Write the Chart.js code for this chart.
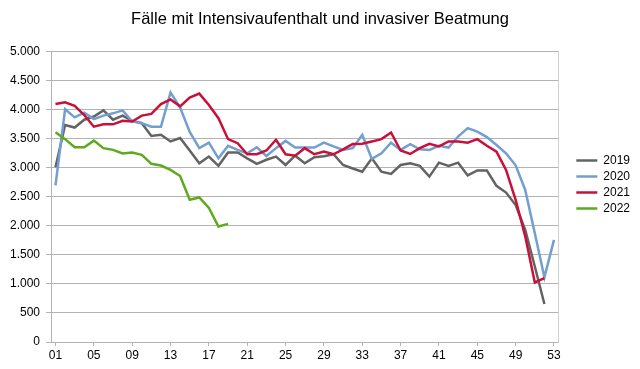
<!DOCTYPE html>
<html>
<head>
<meta charset="utf-8">
<script src="https://cdn.jsdelivr.net/npm/chart.js@4/dist/chart.umd.min.js"></script>
<style>
  html, body { margin: 0; padding: 0; background: #ffffff; }
  #wrap { width: 640px; height: 369px; }
</style>
</head>
<body>
<div id="wrap"><canvas id="c" width="640" height="369"></canvas></div>
<script>
const title = 'Fälle mit Intensivaufenthalt und invasiver Beatmung';
const weeks = ['01','02','03','04','05','06','07','08','09','10','11','12','13','14','15','16','17','18','19','20','21','22','23','24','25','26','27','28','29','30','31','32','33','34','35','36','37','38','39','40','41','42','43','44','45','46','47','48','49','50','51','52','53'];
const tickWeeks = ['01','05','09','13','17','21','25','29','33','37','41','45','49','53'];
const yTicks = [0,500,1000,1500,2000,2500,3000,3500,4000,4500,5000];
const seriesNames = ['2019','2020','2021','2022'];
const v2019 = [3010,3740,3695,3830,3885,3990,3830,3900,3810,3770,3550,3570,3455,3515,3300,3080,3195,3035,3265,3265,3165,3070,3140,3195,3050,3210,3080,3185,3200,3235,3050,2990,2935,3165,2935,2895,3050,3080,3035,2850,3090,3035,3090,2870,2955,2955,2690,2575,2360,1930,1300,655];
const v2020 = [2700,4010,3870,3950,3840,3900,3940,3990,3800,3770,3710,3710,4300,4040,3620,3340,3435,3165,3380,3310,3250,3355,3205,3340,3465,3350,3350,3350,3435,3370,3310,3340,3570,3155,3250,3435,3310,3410,3320,3310,3380,3350,3540,3685,3625,3530,3395,3250,3045,2620,1875,1115,1760];
const v2021 = [4100,4130,4070,3910,3710,3750,3750,3810,3800,3900,3930,4100,4180,4060,4210,4280,4085,3855,3495,3425,3235,3235,3300,3485,3235,3210,3340,3235,3280,3235,3320,3410,3415,3455,3495,3610,3300,3240,3340,3415,3370,3455,3455,3435,3495,3380,3280,2965,2450,1820,1025,1100];
const v2022 = [3615,3495,3355,3355,3470,3340,3310,3250,3265,3225,3070,3040,2965,2860,2450,2490,2310,1990,2035];
const colors = ['#636363','#729fcf','#c8103a','#5ea91e'];

const allValues = [v2019, v2020, v2021, v2022];
const toPoints = vals => vals.map((v, i) => ({ x: parseInt(weeks[i], 10), y: v }));
const fmt = n => String(n).replace(/\B(?=(\d{3})+(?!\d))/g, '.');

const datasets = seriesNames.map((name, i) => ({
  label: name,
  data: toPoints(allValues[i]),
  borderColor: colors[i],
  backgroundColor: colors[i],
  borderWidth: 2.5,
  pointRadius: 0,
  pointHoverRadius: 0,
  tension: 0,
  fill: false,
  order: seriesNames.length - i
}));

new Chart(document.getElementById('c'), {
  type: 'line',
  data: { datasets },
  options: {
    responsive: false,
    animation: false,
    devicePixelRatio: 1,
    layout: { padding: { left: 0, right: 0, top: 0, bottom: 0 } },
    plugins: {
      tooltip: { enabled: false },
      title: {
        display: true,
        text: title,
        color: '#000000',
        font: { family: 'Liberation Sans', size: 16.5, weight: 'normal', lineHeight: 1.2 },
        padding: { top: 10, bottom: 22 }
      },
      legend: {
        display: true,
        position: 'right',
        align: 'center',
        labels: {
          sort: (a, b) => a.datasetIndex - b.datasetIndex,
          usePointStyle: true,
          pointStyle: 'line',
          pointStyleWidth: 21,
          color: '#000000',
          padding: 4,
          font: { family: 'Liberation Sans', size: 12 }
        }
      }
    },
    scales: {
      x: {
        type: 'linear',
        min: 0.53,
        max: 53.45,
        afterBuildTicks: scale => { scale.ticks = tickWeeks.map(t => ({ value: parseInt(t, 10) })); },
        afterFit: scale => { scale.height = 27; },
        ticks: {
          autoSkip: false,
          maxRotation: 0,
          padding: 2,
          color: '#000000',
          font: { family: 'Liberation Sans', size: 12 },
          callback: v => tickWeeks.find(t => parseInt(t, 10) === v) || ''
        },
        grid: { drawOnChartArea: false, drawTicks: true, tickLength: 4, color: '#b3b3b3' },
        border: { display: true, color: '#b3b3b3' }
      },
      y: {
        type: 'linear',
        min: 0,
        max: 5000,
        afterBuildTicks: scale => { scale.ticks = yTicks.map(v => ({ value: v })); },
        afterFit: scale => { scale.width = 51; },
        ticks: {
          padding: 6,
          color: '#000000',
          font: { family: 'Liberation Sans', size: 12 },
          callback: v => fmt(v)
        },
        grid: { color: '#b3b3b3', drawTicks: true, tickLength: 5 },
        border: { display: true, color: '#b3b3b3' }
      },
      y2: {
        type: 'linear',
        position: 'right',
        min: 0,
        max: 5000,
        ticks: { display: false },
        grid: { display: false },
        border: { display: true, color: '#d0d0d0' },
        afterFit: scale => { scale.width = 14; }
      }
    }
  }
});
</script>
</body>
</html>
